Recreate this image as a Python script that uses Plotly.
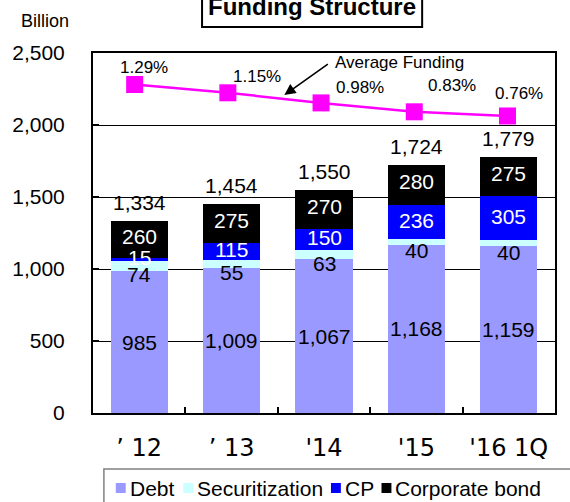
import plotly.graph_objects as go

# ---------------- data ----------------
CATEGORIES = ["’ 12", "’ 13", "'14", "'15", "'16 1Q"]
SERIES_NAMES = ["Debt", "Securitization", "CP", "Corporate bond"]
DEBT = [985, 1009, 1067, 1168, 1159]
SECURITIZATION = [74, 55, 63, 40, 40]
CP = [15, 115, 150, 236, 305]
CORPORATE_BOND = [260, 275, 270, 280, 275]
TOTALS = [1334, 1454, 1550, 1724, 1779]
AVG_FUNDING_RATE = [1.29, 1.15, 0.98, 0.83, 0.76]

# ---------------- styles ----------------
COLORS = ["#9999FF", "#CCFFFF", "#0000FF", "#000000"]
LABEL_COLORS = ["black", "black", "white", "white"]
LABEL_YSHIFT = [0, -9, 2, 3]
LINE_COLOR = "#FF00FF"
RATE_LABEL_OFFSETS = [(9, 17), (29, 16), (39, 15), (38, 26), (12, 22)]
LEGEND_LEFT_PX = [112, 180, 329, 380]

W, H = 570, 502
ML, MR, MT, MB = 89, 15, 53, 89
PW, PH = W - ML - MR, H - MT - MB


def px2x(px):
    return (px - ML) / PW


def px2y(py):
    return (H - MB - py) / PH


FONT = "Arial, Liberation Sans, sans-serif"

fig = go.Figure()
series = [DEBT, SECURITIZATION, CP, CORPORATE_BOND]
for name, vals, col in zip(SERIES_NAMES, series, COLORS):
    fig.add_trace(go.Bar(x=CATEGORIES, y=vals, name=name, marker_color=col,
                         marker_line_width=0, showlegend=False))

fig.add_trace(go.Scatter(x=CATEGORIES, y=AVG_FUNDING_RATE, xaxis="x2", yaxis="y2",
                         mode="lines+markers", line=dict(color=LINE_COLOR, width=2.5),
                         marker=dict(symbol="square", size=17, color=LINE_COLOR),
                         showlegend=False, name="Average Funding"))

annotations = []
# segment labels
base = [0] * len(CATEGORIES)
for si, vals in enumerate(series):
    for i, v in enumerate(vals):
        annotations.append(dict(x=CATEGORIES[i], y=base[i] + v / 2, xref="x", yref="y",
                                text=f"{v:,}", showarrow=False, yshift=LABEL_YSHIFT[si],
                                xanchor="center", yanchor="middle",
                                font=dict(family=FONT, size=21, color=LABEL_COLORS[si])))
        base[i] += v
# totals
for i, t in enumerate(TOTALS):
    annotations.append(dict(x=CATEGORIES[i], y=t, xref="x", yref="y", text=f"{t:,}",
                            showarrow=False, xanchor="center", yanchor="middle", yshift=18,
                            font=dict(family=FONT, size=21, color="black")))
# rate labels
for i, r in enumerate(AVG_FUNDING_RATE):
    dx, dy = RATE_LABEL_OFFSETS[i]
    annotations.append(dict(x=CATEGORIES[i], y=r, xref="x2", yref="y2", text=f"{r:.2f}%",
                            showarrow=False, xshift=dx, yshift=dy,
                            xanchor="center", yanchor="middle",
                            font=dict(family=FONT, size=17, color="black")))
# Average Funding callout
annotations.append(dict(x=px2x(398), y=px2y(62), xref="paper", yref="paper",
                        text="Average Funding", showarrow=False,
                        xanchor="center", yanchor="middle",
                        font=dict(family=FONT, size=17, color="black")))
annotations.append(dict(x=px2x(282), y=px2y(95), xref="paper", yref="paper", text="",
                        showarrow=True, ax=45, ay=-32, axref="pixel", ayref="pixel",
                        arrowhead=2, arrowsize=1.4, arrowwidth=1.6, arrowcolor="black"))
# title
annotations.append(dict(x=px2x(310), y=px2y(6), xref="paper", yref="paper",
                        text="<b>Funding Structure</b>", showarrow=False,
                        xanchor="center", yanchor="middle",
                        font=dict(family=FONT, size=24, color="black")))
annotations.append(dict(x=px2x(41), y=px2y(21), xref="paper", yref="paper",
                        text="Billion", showarrow=False,
                        xanchor="center", yanchor="middle",
                        font=dict(family=FONT, size=18, color="black")))

shapes = [dict(type="rect", xref="paper", yref="paper", x0=px2x(199), x1=px2x(421),
               y0=px2y(27), y1=px2y(-20), line=dict(color="black", width=2))]
# custom legend
shapes.append(dict(type="rect", xref="paper", yref="paper", x0=px2x(100), x1=px2x(590),
                   y0=px2y(469), y1=px2y(520), line=dict(color="#808080", width=1.5)))
for name, col, lx in zip(SERIES_NAMES, COLORS, LEGEND_LEFT_PX):
    shapes.append(dict(type="rect", xref="paper", yref="paper", x0=px2x(lx), x1=px2x(lx + 10),
                       y0=px2y(483), y1=px2y(493), fillcolor=col, line=dict(width=0)))
    annotations.append(dict(x=px2x(lx + 12), y=px2y(488), xref="paper", yref="paper",
                            text=name, showarrow=False, xanchor="left", yanchor="middle",
                            font=dict(family=FONT, size=21, color="black")))

fig.update_layout(
    width=W, height=H, margin=dict(l=ML, r=MR, t=MT, b=MB),
    paper_bgcolor="white", plot_bgcolor="white",
    barmode="stack", bargap=0.38,
    xaxis=dict(type="category", range=[-0.5, 4.5], showline=True, linecolor="black",
               linewidth=2, mirror=True, ticks="inside", tickson="boundaries", ticklen=6,
               tickcolor="black", tickwidth=2, showgrid=False,
               tickfont=dict(family="DejaVu Sans", size=24, color="black"),
               ticklabelstandoff=12),
    yaxis=dict(range=[0, 2500], dtick=500, tickformat=",", showline=True, linecolor="black",
               linewidth=2, mirror=True, ticks="inside", ticklen=6, tickcolor="black",
               tickwidth=2, showgrid=True, gridcolor="black", gridwidth=1, zeroline=False,
               tickfont=dict(family=FONT, size=21, color="black"), ticklabelstandoff=22),
    xaxis2=dict(type="category", overlaying="x", range=[-0.447, 4.51], visible=False),
    yaxis2=dict(overlaying="y", range=[-4.24, 1.82], visible=False),
    annotations=annotations, shapes=shapes,
)

fig.write_html("out.html", config={"displayModeBar": False},
               post_script="document.body.style.margin='0';")
